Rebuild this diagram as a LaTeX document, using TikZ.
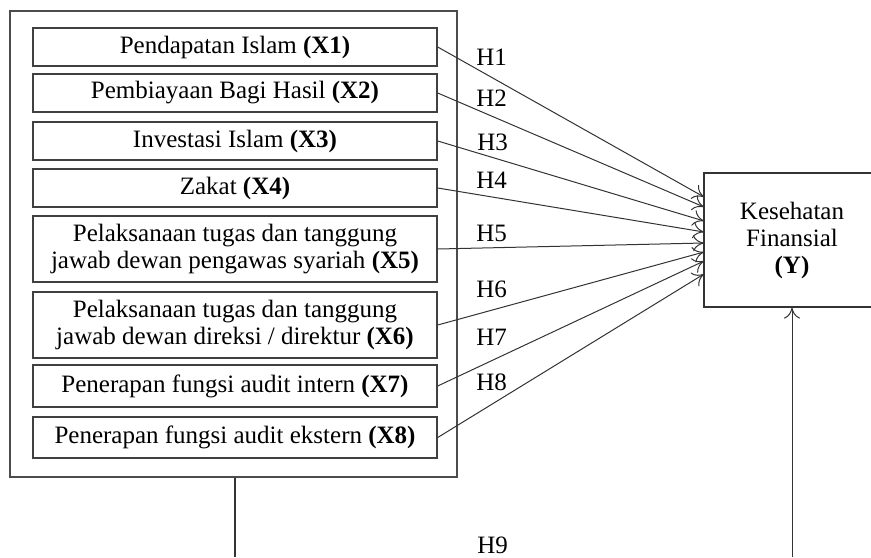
\documentclass[tikz,border=0pt]{standalone}
\usepackage{fontspec}
\setmainfont{Liberation Serif}
\usetikzlibrary{arrows.meta}
\begin{document}
\begin{tikzpicture}[x=0.5pt,y=-0.5pt,
  every node/.style={font=\fontsize{12.5}{13.5}\selectfont, text=black},
  xbox/.style={draw=black!75, line width=0.7pt, minimum width=202pt, inner sep=0pt, align=center},
  hlab/.style={anchor=west, inner sep=0pt},
  link/.style={draw=black!80, line width=0.5pt, -{To[length=5.5pt,width=8pt]}},
  plain/.style={draw=black!80, line width=0.6pt}]
\useasboundingbox (0,0) rectangle (871,557);
\node[draw=black!70, line width=0.9pt, minimum width=223.5pt, minimum height=233pt, inner sep=0pt] (outer) at (233.5,244) {};
\node[xbox, minimum height=19pt] (b1) at (235,47) {Pendapatan Islam \textbf{(X1)}};
\node[xbox, minimum height=19pt] (b2) at (235,93) {Pembiayaan Bagi Hasil \textbf{(X2)}};
\node[xbox, minimum height=19pt] (b3) at (235,141) {Investasi Islam \textbf{(X3)}};
\node[xbox, minimum height=19pt] (b4) at (235,188) {Zakat \textbf{(X4)}};
\node[xbox, minimum height=33pt] (b5) at (235,249) {Pelaksanaan tugas dan tanggung\\jawab dewan pengawas syariah \textbf{(X5)}};
\node[xbox, minimum height=33pt] (b6) at (235,325) {Pelaksanaan tugas dan tanggung\\jawab dewan direksi / direktur \textbf{(X6)}};
\node[xbox, minimum height=21pt] (b7) at (235,386) {Penerapan fungsi audit intern \textbf{(X7)}};
\node[xbox, minimum height=20.5pt] (b8) at (235,437.5) {Penerapan fungsi audit ekstern \textbf{(X8)}};
\node[draw=black!80, line width=0.6pt, minimum width=88pt, minimum height=67pt, inner sep=0pt, align=center] (y) at (792,240) {Kesehatan\\Finansial\\\textbf{(Y)}};
\coordinate (t1) at (704,197);
\coordinate (t2) at (704,207);
\coordinate (t3) at (704,221);
\coordinate (t4) at (704,232);
\coordinate (t5) at (704,243);
\coordinate (t6) at (704,252);
\coordinate (t7) at (704,261);
\coordinate (t8) at (704,274);
\foreach \i in {1,...,8} { \draw[link] (b\i.east) -- (t\i); }
\node[hlab] (h1) at (476,57) {H1};
\node[hlab] (h2) at (476,98) {H2};
\node[hlab] (h3) at (477,142) {H3};
\node[hlab] (h4) at (476,180) {H4};
\node[hlab] (h5) at (476,233) {H5};
\node[hlab] (h6) at (476,289) {H6};
\node[hlab] (h7) at (476,337) {H7};
\node[hlab] (h8) at (476,382) {H8};
\node[hlab] (h9) at (477,545) {H9};
\coordinate (c1) at (235,557);
\coordinate (c2) at (792,557);
\draw[plain] (outer.south -| c1) -- (c1);
\draw[link] (c2) -- (y.south);
\end{tikzpicture}
\end{document}
